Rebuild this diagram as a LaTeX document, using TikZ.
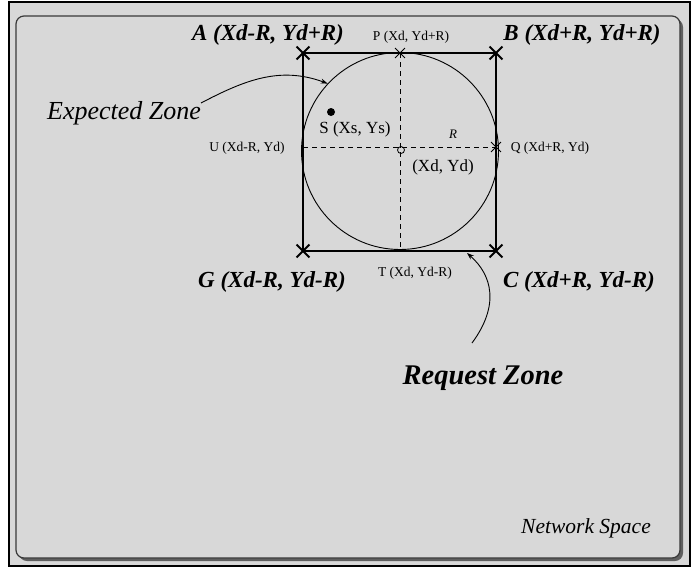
\documentclass[tikz,border=0pt]{standalone}
\usepackage{fontspec}
\setmainfont{Liberation Serif}
\usetikzlibrary{shapes.misc,arrows.meta}
\definecolor{bggray}{RGB}{216,216,216}
\definecolor{shadowgray}{RGB}{95,95,95}
\begin{document}
\begin{tikzpicture}[x=1pt,y=-1pt,
  bigx/.style={cross out,draw,minimum size=11pt,inner sep=0pt,line width=1.8pt},
  smallx/.style={cross out,draw,minimum size=9pt,inner sep=0pt,line width=0.9pt},
  corner/.style={inner sep=0pt,font=\fontsize{23}{26}\selectfont\bfseries\itshape},
  small/.style={inner sep=0pt,font=\fontsize{13.5}{15}\selectfont},
  mid/.style={inner sep=0pt,font=\fontsize{17}{19}\selectfont},
  zone/.style={inner sep=0pt,font=\fontsize{26}{29}\selectfont\itshape},
  req/.style={inner sep=0pt,font=\fontsize{28.5}{31}\selectfont\bfseries\itshape},
  net/.style={inner sep=0pt,font=\fontsize{21.5}{24}\selectfont\itshape},
  dline/.style={line width=1pt,dash pattern=on 5pt off 4pt},
  arr/.style={line width=0.9pt,-{Stealth[length=7pt,width=5pt]}}
]
\useasboundingbox (0,0) rectangle (693,568);
\fill[white] (0,0) rectangle (693,568);
\draw[fill=bggray,line width=2.5pt] (9,2) rectangle (690,566);
\fill[shadowgray,rounded corners=8pt] (19,19) rectangle (683,561);
\draw[fill=bggray,draw=gray!45!black,line width=1.2pt,rounded corners=8pt] (16,16) rectangle (680,558);

% circle
\node[circle,draw,line width=0.9pt,minimum size=197pt,inner sep=0pt] (circ) at (400,151) {};

% corners and points
\node[bigx] (A) at (303,53) {};
\node[bigx] (B) at (496,53) {};
\node[bigx] (G) at (303,251) {};
\node[bigx] (C) at (496,251) {};
\node[smallx] (P) at (400,53) {};
\node[smallx] (Q) at (496,147) {};
\coordinate (T) at (400,251);
\coordinate (U) at (303,147);

% square
\draw[line width=2.6pt] (A.center) -- (B.center) -- (C.center) -- (G.center) -- cycle;

% dashed axes
\draw[dline] (P.center) -- (T);
\draw[dline] (U) -- (Q.center);

% centre and source
\node[circle,draw,line width=0.8pt,minimum size=7pt,inner sep=0pt] (O) at (401,150) {};
\node[circle,fill,minimum size=8pt,inner sep=0pt] (S) at (331,112) {};

% labels
\node[corner] (Al) at (268,35) {A (Xd-R, Yd+R)};
\node[corner] (Bl) at (582,35) {B (Xd+R, Yd+R)};
\node[corner] (Gl) at (272,282) {G (Xd-R, Yd-R)};
\node[corner] (Cl) at (579,282) {C (Xd+R, Yd-R)};
\node[small] (Pl) at (411,37) {P (Xd, Yd+R)};
\node[small] (Tl) at (415,273) {T (Xd, Yd-R)};
\node[small] (Ul) at (247,148) {U (Xd-R, Yd)};
\node[small] (Ql) at (550,148) {Q (Xd+R, Yd)};
\node[small,font=\fontsize{13}{15}\selectfont\itshape] (Rl) at (453,134) {R};
\node[mid] (Sl) at (355,129) {S (Xs, Ys)};
\node[mid] (Ol) at (443,167) {(Xd, Yd)};
\node[zone] (ez) at (124,113) {Expected Zone};
\node[req] (rz) at (483,378) {Request Zone};
\node[net] (ns) at (586,528) {Network Space};

% arrows
\coordinate (e1) at (201,103);
\draw[arr] (e1) .. controls (245,80) and (280,66) .. (circ.137);
\coordinate (r1) at (472,343);
\coordinate (r2) at (467,253);
\draw[arr] (r1) .. controls (500,305) and (492,275) .. (r2);
\end{tikzpicture}
\end{document}
